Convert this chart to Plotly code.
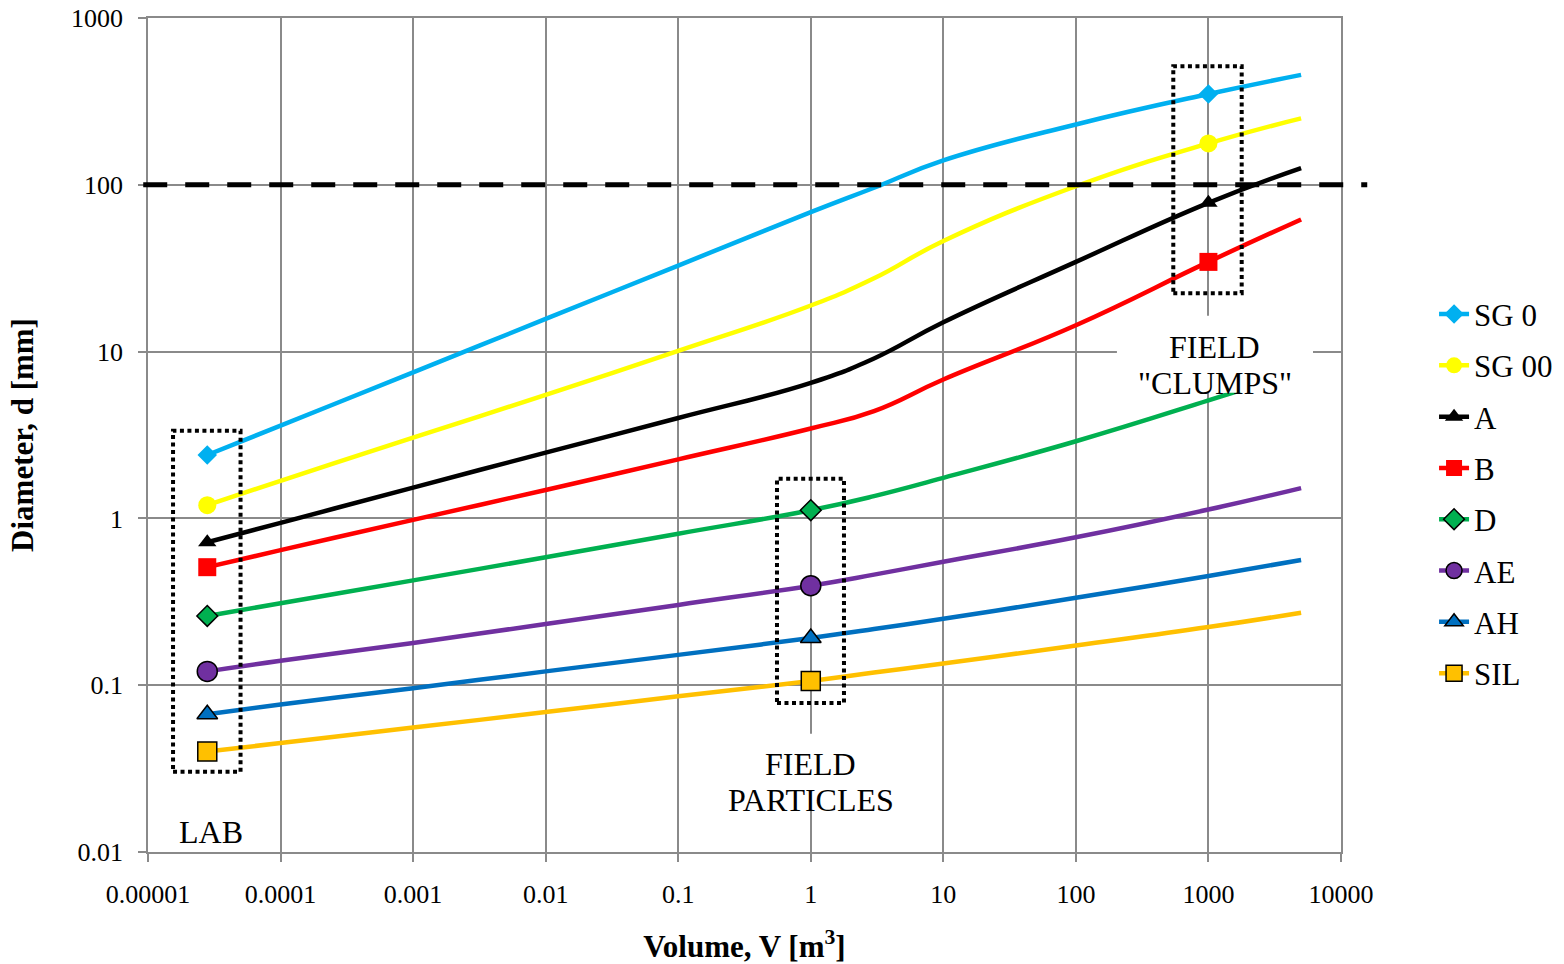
import plotly.graph_objects as go

# Volume classes [m^3] at which diameters are evaluated
volume = [2.8e-5, 1e-4, 1e-3, 1e-2, 0.1, 1, 3, 10, 100, 1000, 5000]

# Diameter d [mm] per material
sg0 = [2.4, 3.6, 7.5, 15.7, 32.8, 68.5, 96, 140, 230, 350, 456]
sg00 = [1.2, 1.68, 3.05, 5.5, 10.1, 18.9, 27.5, 46, 98, 177, 250]
a = [0.72, 0.94, 1.53, 2.48, 4.0, 6.5, 9.1, 15, 34.5, 78, 126]
b = [0.51, 0.645, 0.98, 1.48, 2.26, 3.46, 4.4, 6.8, 14.4, 34.5, 62]
d = [0.26, 0.31, 0.425, 0.585, 0.81, 1.12, 1.36, 1.75, 2.9, 5.1, 7.7]
ae = [0.121, 0.14, 0.179, 0.233, 0.303, 0.395, 0.46, 0.55, 0.77, 1.13, 1.52]
ah = [0.067, 0.0766, 0.096, 0.121, 0.152, 0.192, 0.217, 0.25, 0.334, 0.452, 0.563]
sil = [0.040, 0.045, 0.0557, 0.069, 0.0858, 0.106, 0.119, 0.135, 0.173, 0.223, 0.272]

names = ["SG 0", "SG 00", "A", "B", "D", "AE", "AH", "SIL"]
x_ticks = [1e-5, 1e-4, 1e-3, 1e-2, 0.1, 1, 10, 100, 1000, 10000]
x_ticktext = ["0.00001", "0.0001", "0.001", "0.01", "0.1", "1", "10", "100", "1000", "10000"]
y_ticks = [0.01, 0.1, 1, 10, 100, 1000]
y_ticktext = ["0.01", "0.1", "1", "10", "100", "1000"]
threshold_mm = 100

LAB, FIELD, CLUMP = 0, 5, 9  # indices of the sampled scales

series = [
    (sg0, "#00B0F0", "diamond", 15, None, [LAB, CLUMP]),
    (sg00, "#FFFF00", "circle", 18, None, [LAB, CLUMP]),
    (a, "#000000", "triangle-up", 16, None, [LAB, CLUMP]),
    (b, "#FF0000", "square", 18, None, [LAB, CLUMP]),
    (d, "#00B050", "diamond", 16, "#000000", [LAB, FIELD]),
    (ae, "#7030A0", "circle", 20, "#000000", [LAB, FIELD]),
    (ah, "#0070C0", "triangle-up", 18, "#000000", [LAB, FIELD]),
    (sil, "#FFC000", "square", 19, "#000000", [LAB, FIELD]),
]

FONT = "Liberation Serif, Times New Roman, serif"
GRID = "#8a8a8a"

fig = go.Figure()
for name, (vals, color, sym, size, edge, marked) in zip(names, series):
    fig.add_trace(go.Scatter(
        x=volume, y=vals, mode="lines", name=name, legendgroup=name,
        showlegend=False, hoverinfo="skip",
        line=dict(color=color, width=4.5, shape="spline", smoothing=1.3),
    ))
    mx, my = [], []
    for i in marked:
        if mx:
            mx.append(None)
            my.append(None)
        mx.append(volume[i])
        my.append(vals[i])
    fig.add_trace(go.Scatter(
        x=mx, y=my, mode="lines+markers", name=name, legendgroup=name,
        connectgaps=False,
        line=dict(color=color, width=4.5),
        marker=dict(symbol=sym, size=size, color=color,
                    line=dict(color=edge if edge else color, width=1.5 if edge else 0)),
    ))

shapes = []
# threshold line at d = 100 mm
shapes.append(dict(type="line", xref="paper", yref="y", x0=-0.004, x1=1.022,
                   y0=threshold_mm, y1=threshold_mm,
                   line=dict(color="black", width=5, dash="24px,18px"), layer="above"))
# dotted frames around the sampled scales
for x0, x1, y0, y1 in [(1.545e-5, 4.99e-5, 0.0303, 3.35),
                       (0.556, 1.78, 0.0783, 1.73),
                       (543, 1782, 22.4, 513)]:
    shapes.append(dict(type="rect", xref="x", yref="y", x0=x0, x1=x1, y0=y0, y1=y1,
                       line=dict(color="black", width=4, dash="4px,3.5px"),
                       fillcolor="rgba(0,0,0,0)", layer="above"))
# white backing behind the field labels
for x0, x1, y0, y1 in [(204, 6150, 5.66, 16.4), (0.229, 4.24, 0.01787, 0.0511)]:
    shapes.append(dict(type="rect", xref="x", yref="y", x0=x0, x1=x1, y0=y0, y1=y1,
                       line=dict(width=0), fillcolor="white", layer="above"))

# label lines (x, y in log10 units of the axes)
annotations = [
    dict(x=-4.525, y=-1.879, text="LAB"),
    dict(x=0.0, y=-1.472, text="FIELD"),
    dict(x=0.0, y=-1.688, text="PARTICLES"),
    dict(x=3.049, y=1.029, text="FIELD"),
    dict(x=3.049, y=0.813, text="\"CLUMPS\""),
]
for ann in annotations:
    ann.update(xref="x", yref="y", showarrow=False,
               font=dict(family=FONT, size=32, color="black"))

axis_common = dict(
    type="log", showgrid=True, gridcolor=GRID, gridwidth=1.5,
    showline=True, linecolor=GRID, linewidth=1.5, mirror=True,
    ticks="outside", ticklen=8, tickcolor=GRID, tickwidth=1.5,
    tickfont=dict(family=FONT, size=26, color="black"),
    ticklabelstandoff=10, zeroline=False, automargin=False,
)

fig.update_layout(
    width=1564, height=964, autosize=False,
    margin=dict(l=148, r=223, t=18, b=112, autoexpand=False),
    paper_bgcolor="white", plot_bgcolor="white",
    xaxis=dict(range=[-5, 4], tickvals=x_ticks, ticktext=x_ticktext,
               title=dict(text="<b>Volume, V [m<sup>3</sup>]</b>",
                          font=dict(family=FONT, size=31, color="black"), standoff=30),
               **axis_common),
    yaxis=dict(range=[-2, 3], tickvals=y_ticks, ticktext=y_ticktext,
               title=dict(text="<b>Diameter, d [mm]</b>",
                          font=dict(family=FONT, size=31, color="black"), standoff=28),
               **axis_common),
    legend=dict(x=1.078, y=0.677, xanchor="left", yanchor="top",
                font=dict(family=FONT, size=31, color="black"),
                tracegroupgap=8, bgcolor="rgba(0,0,0,0)"),
    shapes=shapes, annotations=annotations,
    showlegend=True,
)

fig.write_html("out.html")
